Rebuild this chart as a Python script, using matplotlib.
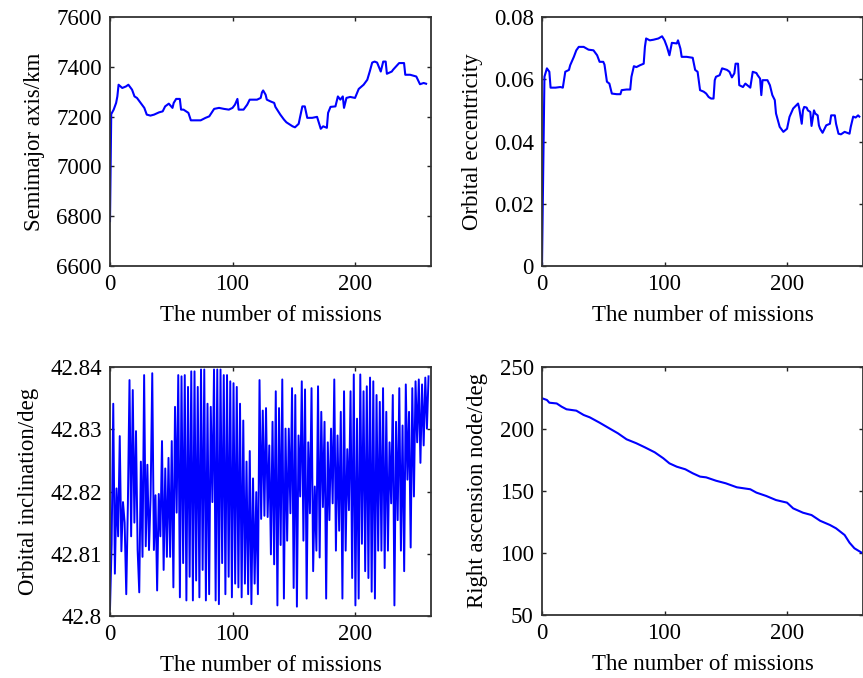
import numpy as np
import matplotlib
matplotlib.use('Agg')
import matplotlib.pyplot as plt

plt.rcParams['font.family'] = ['Liberation Serif', 'DejaVu Serif']

# semimajor axis (km)
sma_m = [0, 1, 3, 5, 6, 7, 10, 13, 15, 18, 20, 22, 25, 28, 30, 33, 36, 40, 43, 45,
         48, 51, 52, 54, 57, 58, 60, 64, 66, 68, 74, 78, 81, 85, 89, 93, 97, 100, 102, 104,
         105, 109, 112, 114, 120, 123, 124, 125, 127, 128, 131, 134, 135, 139, 142, 144, 149, 151, 154, 155,
         157, 159, 161, 165, 169, 172, 174, 177, 178, 180, 184, 186, 188, 190, 191, 193, 196, 200, 203, 207,
         210, 212, 214, 216, 218, 221, 223, 225, 226, 230, 231, 236, 240, 241, 245, 250, 253, 256, 258]
sma = [6780, 7210, 7228, 7255, 7281, 7328, 7315, 7321, 7328, 7308, 7281, 7275, 7255, 7235, 7208, 7204, 7208, 7217, 7221, 7241,
       7252, 7235, 7255, 7271, 7271, 7228, 7228, 7215, 7185, 7185, 7185, 7195, 7201, 7231, 7235, 7231, 7228, 7235, 7248, 7271,
       7228, 7228, 7248, 7268, 7268, 7275, 7297, 7305, 7288, 7268, 7261, 7255, 7239, 7208, 7188, 7177, 7161, 7157, 7171, 7195,
       7241, 7241, 7195, 7195, 7199, 7151, 7161, 7155, 7215, 7239, 7241, 7281, 7268, 7281, 7235, 7275, 7279, 7275, 7311, 7328,
       7348, 7381, 7417, 7421, 7417, 7381, 7421, 7421, 7372, 7381, 7388, 7415, 7415, 7368, 7368, 7361, 7330, 7335, 7332]

# orbital eccentricity
ecc_m = [0, 1, 2, 4, 6, 7, 11, 15, 17, 19, 22, 23, 26, 28, 30, 34, 38, 42, 45, 47,
         50, 51, 53, 55, 57, 61, 64, 65, 69, 72, 73, 75, 77, 80, 83, 84, 85, 88, 91, 95,
         98, 100, 102, 104, 106, 110, 111, 113, 114, 118, 123, 125, 127, 129, 132, 134, 136, 138, 140, 141,
         142, 145, 147, 151, 153, 155, 157, 158, 160, 161, 164, 166, 170, 172, 175, 176, 178, 179, 180, 184,
         186, 188, 190, 191, 194, 197, 200, 202, 205, 209, 210, 212, 213, 214, 216, 217, 219, 220, 222, 223,
         225, 226, 227, 229, 232, 235, 236, 239, 240, 242, 244, 247, 251, 252, 254, 256, 258, 259]
ecc = [0.0, 0.031, 0.0608, 0.0635, 0.0624, 0.0573, 0.0573, 0.0575, 0.0573, 0.0624, 0.063, 0.0645, 0.0672, 0.0693, 0.0704, 0.0704, 0.0695, 0.0693, 0.0677, 0.0656,
       0.0656, 0.0647, 0.0592, 0.0586, 0.0554, 0.0552, 0.0552, 0.0565, 0.0567, 0.0567, 0.0608, 0.0642, 0.0639, 0.0645, 0.065, 0.0704, 0.0731, 0.0725, 0.0727, 0.0731,
       0.0738, 0.0725, 0.0704, 0.0677, 0.0717, 0.0715, 0.0725, 0.0698, 0.0672, 0.0672, 0.0669, 0.063, 0.0624, 0.0565, 0.056, 0.0554, 0.0543, 0.0538, 0.0538, 0.0597,
       0.0608, 0.0613, 0.0635, 0.063, 0.0624, 0.0606, 0.0619, 0.065, 0.065, 0.0581, 0.0575, 0.0586, 0.0573, 0.0624, 0.062, 0.0613, 0.0602, 0.0549, 0.0597, 0.0597,
       0.0581, 0.0549, 0.0533, 0.049, 0.0447, 0.0431, 0.0441, 0.0479, 0.0506, 0.0522, 0.0506, 0.0457, 0.05, 0.0511, 0.0509, 0.05, 0.0495, 0.045, 0.05, 0.049,
       0.0484, 0.0452, 0.0441, 0.0428, 0.0452, 0.0457, 0.0484, 0.0484, 0.0457, 0.0425, 0.0423, 0.0431, 0.0425, 0.0447, 0.048, 0.0477, 0.0484, 0.048]

# orbital inclination, in 0.001 deg above 42.8
incl_milli = [1.1, 11.5, 34.1, 6.8, 20.5, 12.8, 28.9, 10.4, 18.3, 15.0, 3.5, 18.0, 37.9, 12.8, 36.3, 15.0, 29.7, 10.6, 3.8, 24.8,
              9.5, 38.7, 11.2, 24.3, 10.6, 19.4, 39.0, 10.6, 19.4, 4.1, 19.6, 12.8, 28.1, 7.4, 23.7, 9.5, 25.4, 9.5, 28.1, 4.6,
              33.6, 16.6, 38.7, 3.0, 38.5, 8.5, 38.7, 2.5, 36.8, 6.3, 39.3, 2.5, 39.3, 5.7, 36.8, 3.0, 39.6, 7.4, 39.6, 2.5,
              34.1, 3.5, 33.6, 18.3, 39.6, 2.5, 39.6, 1.9, 39.6, 8.5, 38.7, 3.5, 38.7, 6.3, 37.7, 3.0, 37.4, 5.2, 36.8, 4.6,
              34.1, 3.0, 31.4, 5.2, 24.8, 3.5, 26.5, 1.9, 22.1, 5.2, 19.9, 3.5, 37.9, 15.6, 33.0, 16.1,
              33.4, 15.9, 27.4, 9.9, 31.2, 8.3, 36.1, 1.7, 33.4, 11.4, 38.0, 2.8, 30.1, 12.1, 30.1, 16.5, 36.6, 4.5, 35.5, 1.5,
              29.0, 19.2, 37.7, 12.1, 36.4, 2.8, 27.9, 16.5, 36.6, 7.2, 20.8, 10.5, 36.9, 9.4, 32.8, 17.5, 31.2, 2.8, 27.9, 15.4,
              30.1, 18.1, 38.0, 10.5, 29.0, 13.7, 32.8, 2.8, 36.1, 10.5, 26.8, 17.0, 36.1, 6.1, 38.8, 1.7, 31.7, 2.8, 38.8, 11.6,
              36.1, 7.2, 36.9, 6.1, 38.3, 3.9, 37.7, 2.8, 35.5, 10.5, 34.4, 10.5, 36.6, 7.7, 32.8, 10.5, 27.9, 18.1, 35.5, 1.7,
              31.2, 15.4, 36.6, 10.5, 30.6, 7.2, 37.2, 21.9, 32.8, 11.0, 36.6, 19.2, 37.7, 27.9, 38.0, 24.6, 37.2, 27.4, 38.3, 30.1,
              38.5]

# right ascension of ascending node (deg)
raan_m = [0, 4, 6, 12, 16, 20, 28, 34, 39, 47, 55, 62, 69, 77, 84, 92, 99, 104, 110, 117,
          123, 129, 134, 142, 150, 159, 170, 175, 183, 191, 200, 205, 213, 220, 227, 235, 240, 247, 251, 255, 261]
raan = [224.8, 223.4, 221.2, 220.6, 218.0, 215.9, 214.8, 211.3, 209.4, 205.1, 200.5, 196.5, 191.7, 188.5, 185.2, 181.2, 176.4, 172.3, 169.6, 167.5,
        164.3, 161.6, 161.0, 158.3, 156.2, 153.0, 151.4, 148.7, 146.0, 142.7, 140.6, 136.0, 132.5, 130.6, 126.0, 122.6, 119.9, 114.5, 108.3, 103.8, 100.2]

W, H = 863, 678
fig = plt.figure(figsize=(W / 100, H / 100), dpi=100)


def make_ax(x0, y0, x1, y1):
    return fig.add_axes([x0 / W, 1 - y1 / H, (x1 - x0) / W, (y1 - y0) / H])


def style(ax, ylabel, ylim, yticks, yticklabels):
    ax.set_xlim(0, 262)
    ax.set_ylim(*ylim)
    ax.set_xticks([0, 100, 200])
    ax.set_yticks(yticks)
    ax.set_yticklabels(yticklabels)
    ax.tick_params(direction='in', length=3, width=1.0, top=True, right=True,
                   labelsize=16.5, pad=6, color='#222222')
    for s in ax.spines.values():
        s.set_linewidth(1.3)
        s.set_color('#333333')
    ax.set_xlabel('The number of missions', fontsize=16.5, labelpad=7)
    ax.set_ylabel(ylabel, fontsize=16.5, labelpad=8)


ax1 = make_ax(110, 17, 431, 266)
ax1.plot(sma_m, sma, color='#0000ff', lw=1.5)
style(ax1, 'Semimajor axis/km', (6600, 7600), [6600, 6800, 7000, 7200, 7400, 7600],
      ['6600', '6800', '7000', '7200', '7400', '7600'])

ax2 = make_ax(542, 17, 863, 266)
ax2.plot(ecc_m, ecc, color='#0000ff', lw=1.5)
style(ax2, 'Orbital eccentricity', (0, 0.08), [0, 0.02, 0.04, 0.06, 0.08],
      ['0', '0.02', '0.04', '0.06', '0.08'])

ax3 = make_ax(110, 367, 431, 616)
incl = 42.8 + np.array(incl_milli) / 1000.0
incl_m = np.linspace(0, 260, len(incl))
ax3.plot(incl_m, incl, color='#0000ff', lw=1.4)
style(ax3, 'Orbital inclination/deg', (42.8, 42.84), [42.8, 42.81, 42.82, 42.83, 42.84],
      ['42.8', '42.81', '42.82', '42.83', '42.84'])

ax4 = make_ax(542, 367, 863, 615)
ax4.plot(raan_m, raan, color='#0000ff', lw=1.5)
style(ax4, 'Right ascension node/deg', (50, 250), [50, 100, 150, 200, 250],
      ['50', '100', '150', '200', '250'])

fig.savefig('out.png', dpi=100)
